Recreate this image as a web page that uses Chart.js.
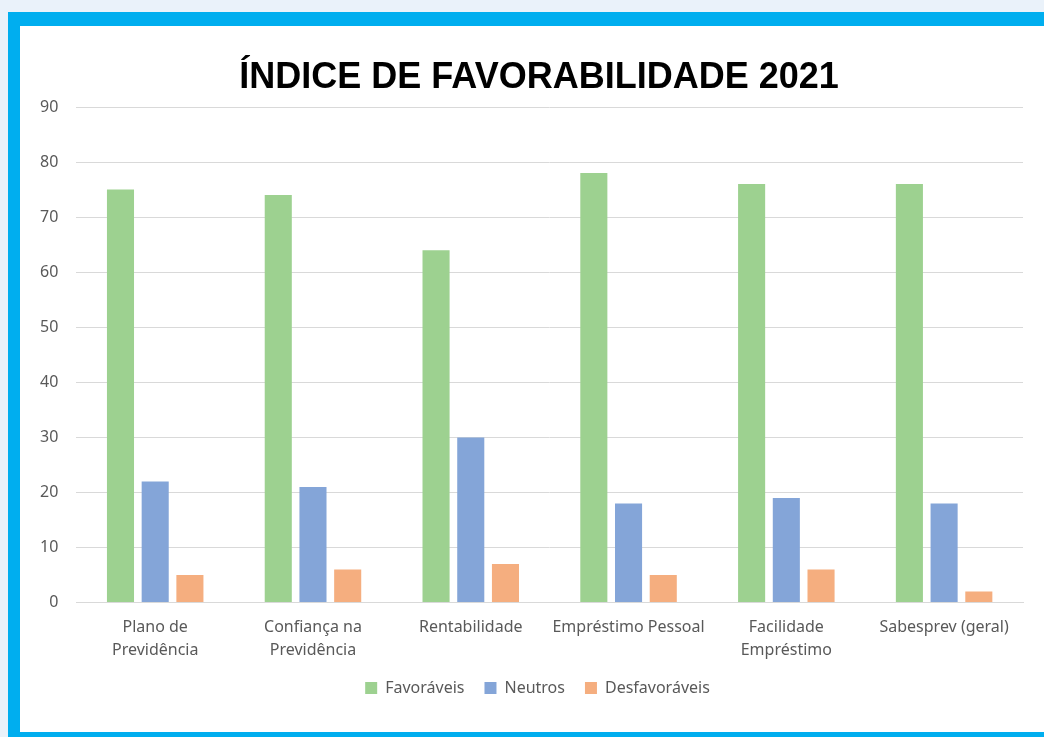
<!DOCTYPE html>
<html>
<head>
<meta charset="utf-8">
<script src="https://cdn.jsdelivr.net/npm/chart.js@4.4.1/dist/chart.umd.min.js"></script>
<style>
  html, body { margin: 0; padding: 0; width: 1044px; height: 737px; overflow: hidden; background: #EAF2FA; }
  #frame { position: absolute; left: 8px; top: 12px; width: 1100px; height: 725px; background: #00AEEF; }
  #inner { position: absolute; left: 20px; top: 26px; width: 1100px; height: 706px; background: #ffffff; }
  #c { position: absolute; left: 20px; top: 26px; }
</style>
</head>
<body>
<div id="frame"></div>
<div id="inner"></div>
<canvas id="c" width="1038" height="706"></canvas>
<script>
const categories = [
  ["Plano de", "Previdência"],
  ["Confiança na", "Previdência"],
  "Rentabilidade",
  "Empréstimo Pessoal",
  ["Facilidade", "Empréstimo"],
  "Sabesprev (geral)"
];
const favoraveis = [75, 74, 64, 78, 76, 76];
const neutros = [22, 21, 30, 18, 19, 18];
const desfavoraveis = [5, 6, 7, 5, 6, 2];
const yTicks = [0, 10, 20, 30, 40, 50, 60, 70, 80, 90];
const titleText = "ÍNDICE DE FAVORABILIDADE 2021";

const txt = "#595959";
const family = "'Noto Sans', 'Open Sans', sans-serif";

// Centre the title on the whole frame and nudge the legend into place
const layoutTweak = {
  id: "layoutTweak",
  afterLayout(chart) {
    const t = chart.titleBlock;
    if (t) { t.left = 0; t.right = chart.width; }
    const l = chart.legend;
    if (l) { l.top -= 15; l.bottom -= 15; l.left += 15; l.right += 15; }
  }
};

new Chart(document.getElementById("c"), {
  type: "bar",
  data: {
    labels: categories,
    datasets: [
      { label: "Favoráveis", data: favoraveis, backgroundColor: "#9DD190" },
      { label: "Neutros", data: neutros, backgroundColor: "#84A5D8" },
      { label: "Desfavoráveis", data: desfavoraveis, backgroundColor: "#F5AE7F" }
    ]
  },
  plugins: [layoutTweak],
  options: {
    responsive: false,
    animation: false,
    devicePixelRatio: 1,
    categoryPercentage: 0.66,
    barPercentage: 0.78,
    layout: { padding: { left: 2, right: 35, top: 30, bottom: 11 } },
    plugins: {
      title: {
        display: true,
        text: titleText,
        color: "#000000",
        font: { family: "'Liberation Sans', Arial, sans-serif", size: 36, weight: "bold", lineHeight: 1.2 },
        padding: { top: 0, bottom: 7.8 }
      },
      legend: {
        position: "bottom",
        labels: {
          color: txt,
          font: { family: family, size: 16 },
          boxWidth: 12,
          boxHeight: 12,
          padding: 20
        }
      },
      tooltip: { enabled: false }
    },
    scales: {
      x: {
        grid: { display: false, drawTicks: false },
        border: { display: true, color: "#D9D9D9", width: 1 },
        ticks: { color: txt, font: { family: family, size: 16, lineHeight: 1.45 }, padding: 13, maxRotation: 0, autoSkip: false }
      },
      y: {
        min: 0,
        max: 90,
        afterBuildTicks: (axis) => { axis.ticks = yTicks.map(v => ({ value: v })); },
        grid: { color: "#D9D9D9", drawTicks: false, lineWidth: 1 },
        border: { display: false },
        ticks: { color: txt, font: { family: family, size: 16 }, padding: 18 }
      }
    }
  }
});
</script>
</body>
</html>
